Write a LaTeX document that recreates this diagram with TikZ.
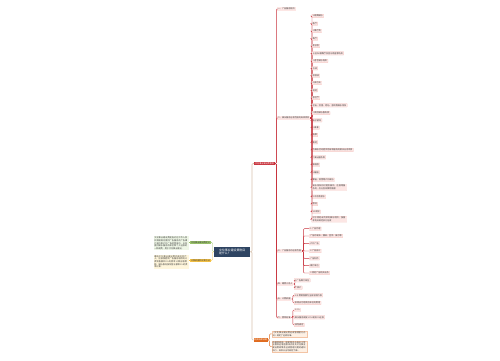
\documentclass[tikz,border=0pt]{standalone}
\usepackage{fontspec}
\setmainfont{Noto Sans CJK SC}
\XeTeXlinebreaklocale "zh"
\XeTeXlinebreakskip = 0pt plus 1pt
\definecolor{navy}{HTML}{2E4462}
\definecolor{redc}{HTML}{C8323C}
\definecolor{itemfill}{HTML}{FCE6E4}
\definecolor{itemdraw}{HTML}{F2BFBA}
\definecolor{txt}{HTML}{3A3A3A}
\definecolor{tan}{HTML}{D8C2AE}
\definecolor{greenc}{HTML}{9BC46B}
\definecolor{greenfill}{HTML}{EEF6E6}
\definecolor{yellowc}{HTML}{F5C244}
\definecolor{yellowfill}{HTML}{FFF6DC}
\definecolor{orangec}{HTML}{E06B1F}
\definecolor{orangefill}{HTML}{FDF0E4}
\tikzset{
  base/.style={font=\fontsize{2.1pt}{2.65pt}\selectfont, inner xsep=0.9pt, inner ysep=0.8pt, text=txt},
  item/.style={base, fill=itemfill, draw=itemdraw, line width=0.15pt, rounded corners=0.4pt, anchor=west},
  lvl/.style={base, fill=itemfill, anchor=west},
  rline/.style={draw=redc, line width=0.45pt, rounded corners=1pt},
  tline/.style={draw=tan, line width=0.6pt, rounded corners=1pt},
  gline/.style={draw=greenc, line width=0.4pt, rounded corners=1pt},
  yline/.style={draw=yellowc, line width=0.4pt, rounded corners=1pt},
  oline/.style={draw=orangec, line width=0.4pt, rounded corners=1pt},
  block/.style={base, align=left, text width=33.4pt, anchor=north west, inner sep=0.8pt},
}
\begin{document}
\begin{tikzpicture}[x=1pt,y=-1pt]
\useasboundingbox[fill=white] (0,0) rectangle (500,360);

% central
\node[base, font=\fontsize{2.9pt}{3.6pt}\selectfont, fill=navy, text=white, align=left, inner xsep=1.6pt, inner ysep=1.2pt, minimum width=36pt, minimum height=10pt] (c) at (232.2,251.7) {文化事业建设费税目\\是什么？};

% left
\node[base, fill=greenc, anchor=east] (g) at (211,242.3) {文化事业建设费定义};
\node[base, fill=yellowc, anchor=east] (y) at (211,260.3) {计税依据和计算方法};
\node[block, fill=greenfill] (gt) at (153.3,236) {文化事业建设费是指对在中华人民共和国境内提供广告服务的广告媒介单位和户外广告经营单位，以及提供娱乐服务的单位和个人征收的一种规费，用于文化事业建设。};
\node[block, fill=yellowfill] (yt) at (153.3,254.3) {缴纳文化事业建设费的单位和个人，应按照提供广告服务取得的计费销售额和3\%的费率计算应缴费额，娱乐服务按照营业额和3\%的费率计算。};
\draw[gline] (c.west) -- ++(-1.5,0) |- (g.east);
\draw[yline] (c.west) -- ++(-1.5,0) |- (y.east);
\draw[gline] (g.west) -- (g.west -| gt.east);
\draw[yline] (y.west) -- (y.west -| yt.east);

% main red and orange
\node[base, fill=redc, text=white, anchor=west] (r) at (254,163.5) {文化事业建设费税目};
\node[base, fill=orangec, text=white, anchor=west] (o) at (253.3,340) {相关法律法规};
\draw[tline] (c.east) -- ++(1.6,0) |- (r.west);
\draw[tline] (c.east) -- ++(1.6,0) |- (o.west);

% orange children
\node[block, fill=orangefill, draw=orangec!40, line width=0.15pt] (o1) at (271.7,330.7) {《文化事业建设费征收管理暂行办法》规定了征收标准。};
\node[block, fill=orangefill, draw=orangec!40, line width=0.15pt] (o2) at (271.7,340.5) {依据财政部、国家税务总局关于营业税改征增值税试点有关文化事业建设费政策及征收管理问题的通知执行，具体以当地规定为准。};
\draw[oline] (o.east) -- ++(1.3,0) |- (o1.west);
\draw[oline] (o.east) -- ++(1.3,0) |- (o2.west);

% level 2
\node[lvl] (n1) at (276.7,9) {一、广告服务税目};
\node[lvl] (n2) at (276.7,118) {二、娱乐服务征收范围的具体项目};
\node[lvl] (n3) at (276.7,251) {三、广告服务的征收范围};
\node[lvl] (n4) at (276.7,284) {四、缴费义务人};
\node[lvl] (n5) at (276.7,299) {五、计费依据};
\node[lvl] (n6) at (276.7,317.3) {六、费率标准};
\foreach \n in {n1,n2,n3,n4,n5,n6}{
  \draw[rline] (r.east) -- ++(1.3,0) |- (\n.west);
}

% children of n2
\foreach \yy/\t [count=\i] in {
16/1.歌舞娱乐, 23.7/歌厅, 31/2.舞厅类, 38.7/舞厅, 46/夜总会,
53.3/卡拉OK歌舞厅及音乐茶座等场所, 61/3.游艺娱乐场所, 68.3/台球, 75.7/保龄球,
83/4.高尔夫, 90.3/网吧, 98/游艺厅, 105.3/射击、狩猎、跑马、游戏等娱乐场所,
113/5.其他娱乐服务类, 120.3/电子游戏, 127.7/6.桑拿, 135/按摩, 142.3/氧吧,
150/为娱乐活动提供场所和服务的相关业务项目, 157.3/7.演出服务类, 164.7/演唱会,
172.3/8.蹦极, 179.7/攀岩、滑雪等户外娱乐, 196.7/9.冲浪及潜水, 204/漂流, 211.7/10.跳伞}{
  \node[item] (s\i) at (311.7,\yy) {\t};
  \draw[rline] (n2.east) -- ++(1.6,0) |- (s\i.west);
}
\node[item, text width=33pt, align=left] (sa) at (311.7,187.5) {娱乐场所同时提供餐饮、住宿等服务的，应分别核算销售额};
\node[item, text width=33pt, align=left] (sb) at (311.7,219.3) {对于其他未列举的娱乐项目，按国家有关规定执行征收};
\draw[rline] (n2.east) -- ++(1.6,0) |- (sa.west);
\draw[rline] (n2.east) -- ++(1.6,0) |- (sb.west);

% children of n3
\foreach \yy/\t [count=\i] in {228.7/1.广告代理, 236/广告的发布、播映、宣传、展示等, 243.3/户外广告,
251/2.广告设计, 258.3/广告制作, 265.7/媒介单位, 273/3.其他广告相关业务}{
  \node[item] (t\i) at (309.3,\yy) {\t};
  \draw[rline] (n3.east) -- ++(1.4,0) |- (t\i.west);
}

% children of n4
\node[item] (u1) at (294,280.3) {1.广告媒介单位};
\node[item] (u2) at (294,287.7) {个体户};
\draw[rline] (n4.east) -- ++(1.4,0) |- (u1.west);
\draw[rline] (n4.east) -- ++(1.4,0) |- (u2.west);

% children of n5
\node[item] (v1) at (294,295.3) {1.计费销售额为全部含税价款};
\node[item] (v2) at (294,303) {扣除支付给其他单位的费用};
\draw[rline] (n5.east) -- ++(1.4,0) |- (v1.west);
\draw[rline] (n5.east) -- ++(1.4,0) |- (v2.west);

% children of n6
\node[item] (w1) at (294,310) {1.3\%};
\node[item] (w2) at (294,317.3) {娱乐服务减按1.5\%或按3\%征收};
\node[item] (w3) at (294,325) {减免规定};
\draw[rline] (n6.east) -- ++(1.4,0) |- (w1.west);
\draw[rline] (n6.east) -- ++(1.4,0) |- (w2.west);
\draw[rline] (n6.east) -- ++(1.4,0) |- (w3.west);
\end{tikzpicture}
\end{document}
